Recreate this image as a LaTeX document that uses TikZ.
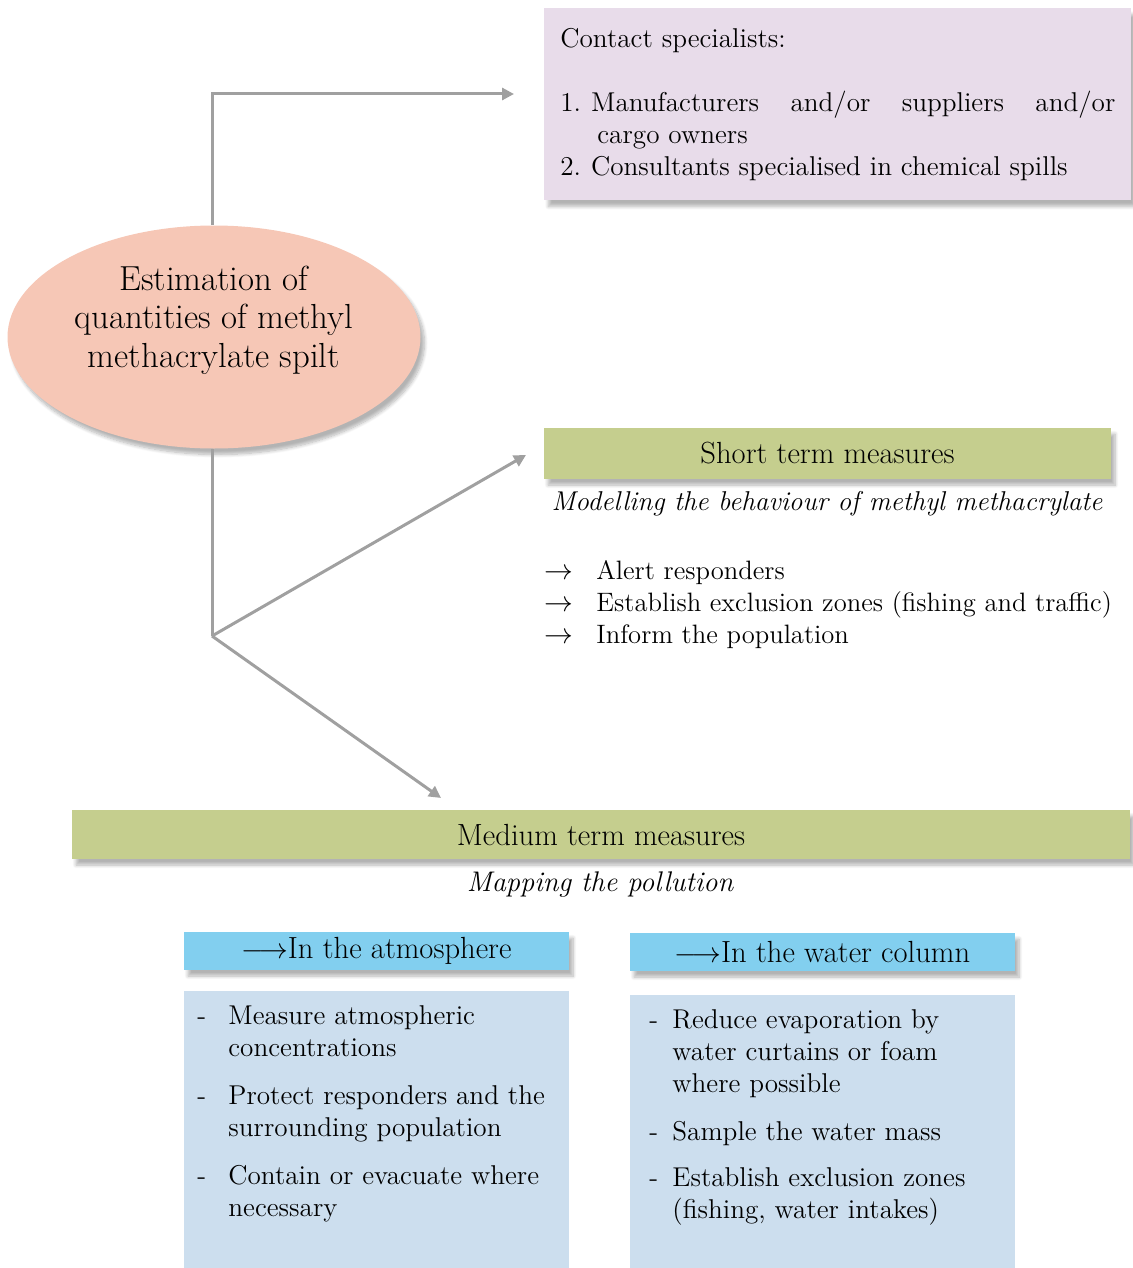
\documentclass[tikz,border=0pt]{standalone}
\usepackage{tikz}
\usetikzlibrary{arrows.meta, shapes.geometric, shadows.blur}

\definecolor{spillpink}{HTML}{F6C7B6}
\definecolor{contactlilac}{HTML}{E8DCEA}
\definecolor{measuregreen}{HTML}{C5CE8E}
\definecolor{headblue}{HTML}{82CFEF}
\definecolor{bodyblue}{HTML}{CCDEEE}
\definecolor{linkgray}{HTML}{A0A0A0}

\tikzset{
  conn/.style={draw=linkgray, line width=1.5pt},
  softshadow/.style={blur shadow={shadow xshift=2pt, shadow yshift=-3pt, shadow blur steps=8, shadow opacity=30}},
  bar/.style={fill=measuregreen, inner sep=0pt, font=\fontsize{15.3}{16}\selectfont, softshadow},
  subhead/.style={fill=headblue, inner sep=0pt, minimum width=192.5pt, minimum height=19pt, font=\fontsize{15.3}{16}\selectfont, softshadow},
  subbody/.style={fill=bodyblue, inner sep=0pt, minimum width=192.5pt},
  txt/.style={inner sep=0pt, font=\fontsize{13.6}{16}\selectfont},
  subtitle/.style={inner sep=0pt, font=\fontsize{14.2}{16}\selectfont\itshape}
}

\begin{document}
\begin{tikzpicture}[x=0.5pt, y=-0.5pt, >={Triangle[length=6pt, width=6pt]}]
  \useasboundingbox (0,0) rectangle (1132,1268);

  % Ellipse and contact box
  \node[ellipse, fill=spillpink, minimum width=206.5pt, minimum height=111.5pt, inner sep=0pt, softshadow] (est) at (214,337) {};
  \node[align=center, inner sep=0pt, font=\fontsize{17.4}{19.3}\selectfont] (esttext) at (214,320)
        {Estimation of\\quantities of methyl\\methacrylate spilt};
  \node[fill=contactlilac, anchor=north west, minimum height=96pt, text width=277.5pt,
        inner xsep=8pt, inner ysep=0pt, align=justify, font=\fontsize{13.6}{16}\selectfont, softshadow] (contact) at (544,8)
        {Contact specialists:\par\vspace{16pt}
         \hangindent=18.5pt\hangafter=1
         1.\hspace{5pt}Manufacturers and/or suppliers and/or\linebreak cargo owners\par
         2.\hspace{5pt}Consultants specialised in chemical spills};

  % Short term
  \node[bar, minimum width=283.5pt, minimum height=25.5pt] (short) at (827.5,453.5) {Short term measures};
  \node[subtitle, font=\fontsize{13.6}{16}\selectfont\itshape] (shortsub) at (827,504) {Modelling the behaviour of methyl methacrylate};
  \node[txt, font=\fontsize{13.3}{16}\selectfont, anchor=north west] (shortlist) at (544,557)
        {\begin{tabular}{@{}p{26pt}@{}l@{}}
           $\rightarrow$ & Alert responders\\
           $\rightarrow$ & Establish exclusion zones (fishing and traffic)\\
           $\rightarrow$ & Inform the population
         \end{tabular}};

  % Medium term
  \node[bar, minimum width=529pt, minimum height=24.5pt] (medium) at (601,834.5) {Medium term measures};
  \node[subtitle] (mediumsub) at (600,885) {Mapping the pollution};

  \node[subhead] (atmhead) at (376.5,951) {$\longrightarrow$In the atmosphere};
  \node[subhead] (waterhead) at (822.5,952) {$\longrightarrow$In the water column};

  \node[subbody, minimum height=138.5pt] (atmbody) at (376.5,1129.5) {};
  \node[subbody, minimum height=136.5pt] (waterbody) at (822.5,1131.5) {};

  \node[txt, anchor=north west] (atmlist) at (197,1002)
        {\begin{tabular}{@{}p{15.5pt}@{}l@{}}
           - & Measure atmospheric\\
             & concentrations\\[8pt]
           - & Protect responders and the\\
             & surrounding population\\[8pt]
           - & Contain or evacuate where\\
             & necessary
         \end{tabular}};
  \node[txt, anchor=north west] (waterlist) at (649,1006)
        {\begin{tabular}{@{}p{11.5pt}@{}l@{}}
           - & Reduce evaporation by\\
             & water curtains or foam\\
             & where possible\\[8pt]
           - & Sample the water mass\\[7pt]
           - & Establish exclusion zones\\
             & (fishing, water intakes)
         \end{tabular}};

  % Connectors
  \coordinate (contactin) at (514,94);
  \coordinate (split) at (212,636);
  \coordinate (shortin) at (526,455);
  \coordinate (mediumin) at (441,798);
  \draw[conn, ->] (split |- est.north) |- (contactin);
  \draw[conn] (split |- est.south) -- (split);
  \draw[conn, ->] (split) -- (shortin);
  \draw[conn, ->] (split) -- (mediumin);
\end{tikzpicture}
\end{document}
